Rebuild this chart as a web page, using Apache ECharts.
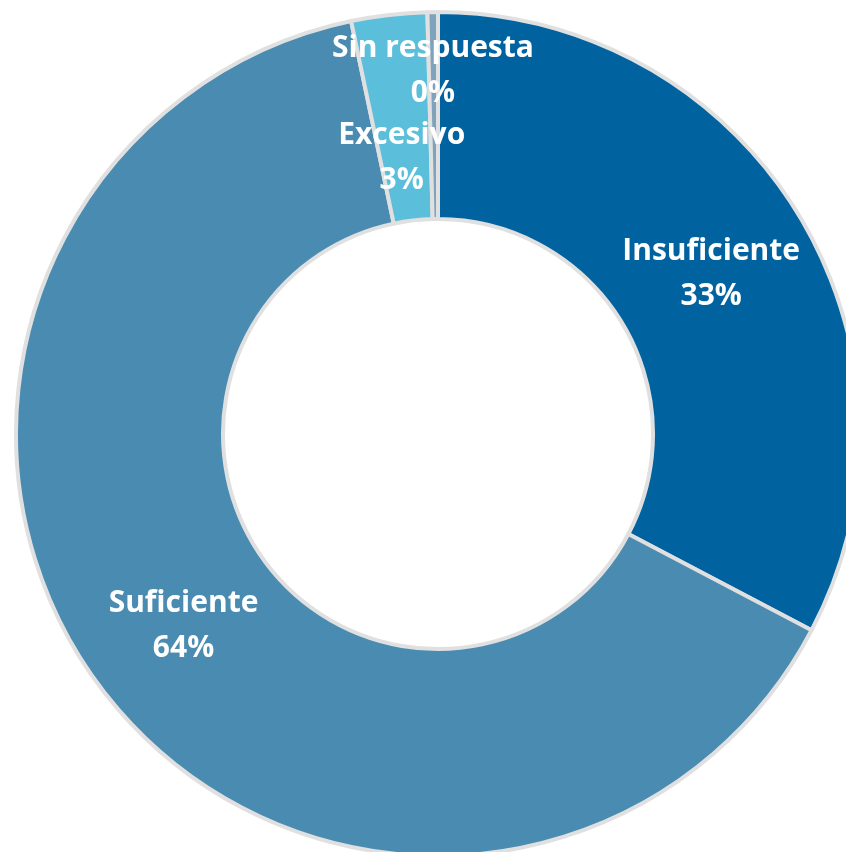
<!DOCTYPE html>
<html>
<head>
<meta charset="utf-8">
<script src="https://cdn.jsdelivr.net/npm/echarts@6/dist/echarts.min.js"></script>
<style>
html,body{margin:0;padding:0;background:#fff;}
#chart{width:846px;height:852px;}
</style>
</head>
<body>
<div id="chart"></div>
<script>
const categories = ["Insuficiente", "Suficiente", "Excesivo", "Sin respuesta"];
const values = [32.7, 64.0, 2.9, 0.4];
const colors = ["#0063A0", "#4A8BB1", "#5BBFDC", "#7FA3BD"];
const labelOffsets = [[-2, 6], [2, -2], [1, 43], [-1, -42]];

const chart = echarts.init(document.getElementById('chart'), null, {renderer: 'canvas'});
chart.setOption({
  animation: false,
  series: [{
    type: 'pie',
    center: [438, 434],
    radius: [215, 422],
    startAngle: 90,
    clockwise: true,
    percentPrecision: 0,
    avoidLabelOverlap: false,
    minShowLabelAngle: 0,
    labelLayout: {hideOverlap: false},
    itemStyle: {borderColor: '#E0E0E0', borderWidth: 4},
    label: {
      show: true,
      position: 'inside',
      formatter: '{b}\n{d}%',
      color: '#fff',
      fontFamily: 'Open Sans',
      fontWeight: 'bold',
      fontSize: 30,
      lineHeight: 45
    },
    labelLine: {show: false},
    emphasis: {disabled: true},
    data: categories.map((c, i) => ({
      name: c,
      value: values[i],
      itemStyle: {color: colors[i]},
      label: {offset: labelOffsets[i]}
    }))
  }]
});
</script>
</body>
</html>
